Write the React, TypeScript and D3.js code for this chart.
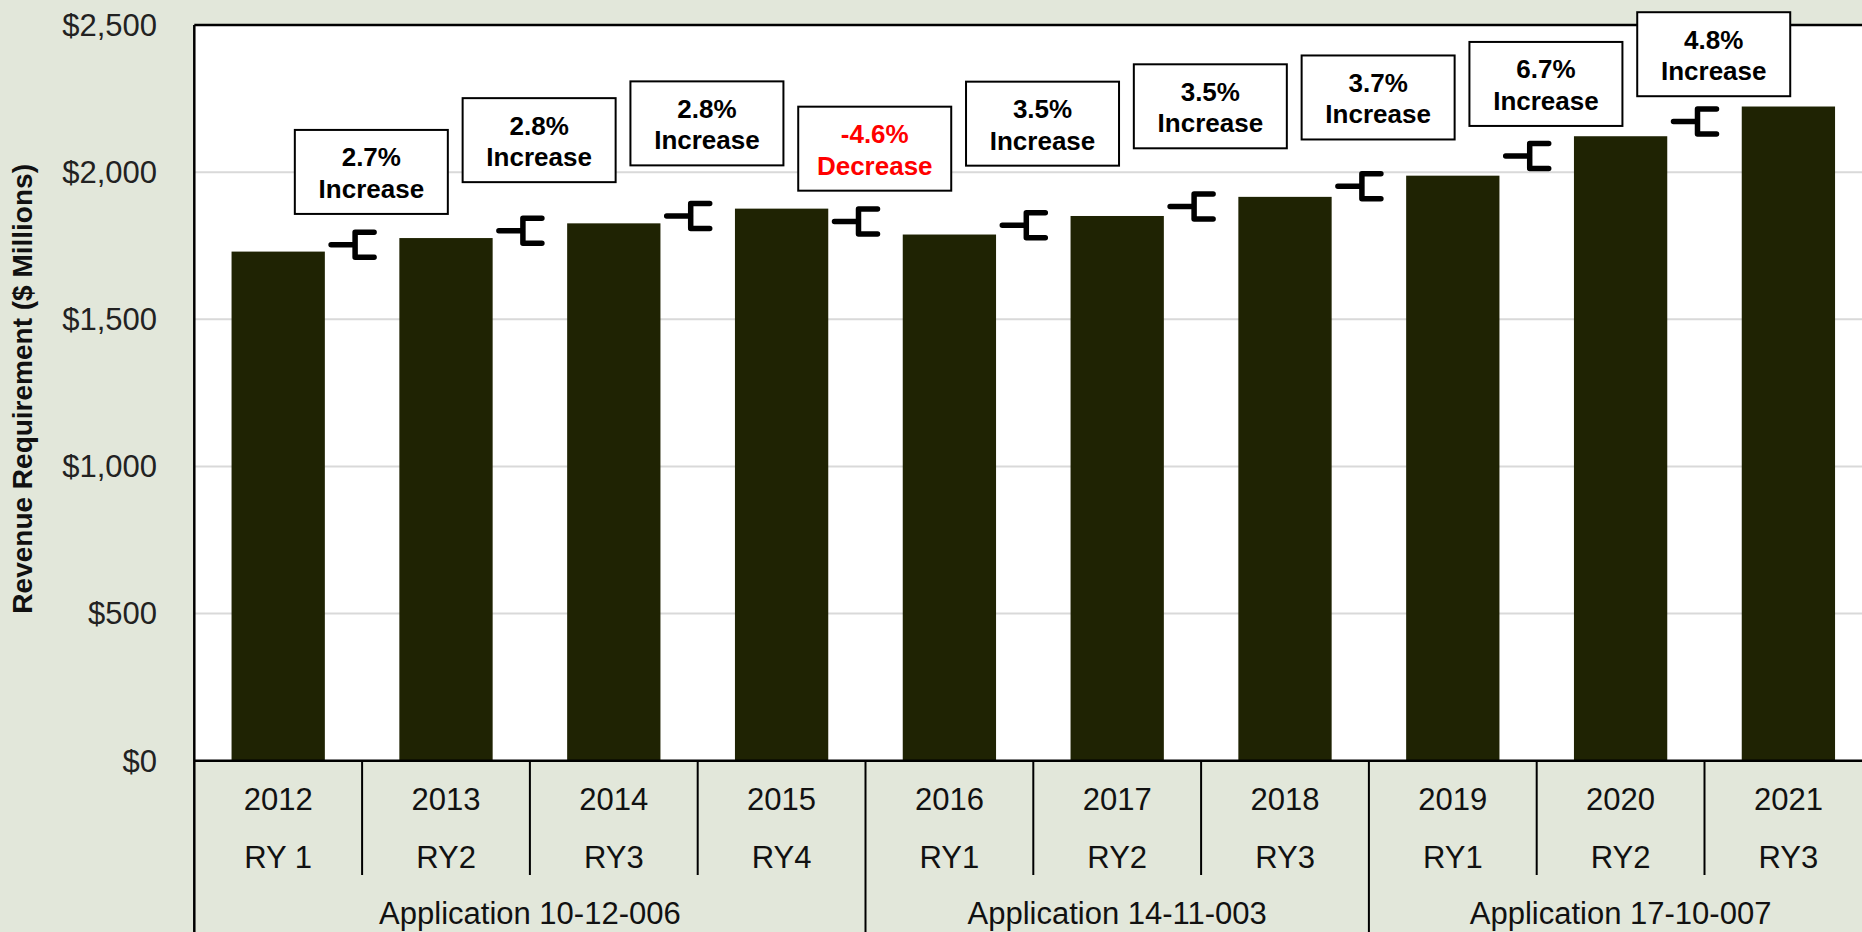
import React from 'react';
import * as d3 from 'd3';

// chart data
const years = ['2012', '2013', '2014', '2015', '2016', '2017', '2018', '2019', '2020', '2021'];
const rateYears = ['RY 1', 'RY2', 'RY3', 'RY4', 'RY1', 'RY2', 'RY3', 'RY1', 'RY2', 'RY3'];
const revenue = [1730, 1776, 1826, 1876, 1788, 1851, 1916, 1988, 2122, 2223];
const applications = ['Application 10-12-006', 'Application 14-11-003', 'Application 17-10-007'];
const appSpans = [4, 3, 3];
const changePct = ['2.7%', '2.8%', '2.8%', '-4.6%', '3.5%', '3.5%', '3.7%', '6.7%', '4.8%'];
// where each change label box sits, in $ millions (bottom edge of the box)
const labelLevels = [1858, 1966, 2023, 1937, 2022, 2081, 2111, 2157, 2258];
const yTicks = [0, 500, 1000, 1500, 2000, 2500];

const W = 1862;
const H = 932;
const margin = { top: 25, left: 194.3, bottom: 760.7 };
const step = 167.8;
const font = '"Liberation Sans", Arial, sans-serif';
const bg = '#e2e7da';
const barColor = '#1f2303';

const App = () => {
  const x = d3.scaleBand()
    .domain(years)
    .range([margin.left, margin.left + step * years.length])
    .padding(0);

  const y = d3.scaleLinear()
    .domain([0, 2500])
    .range([margin.bottom, margin.top]);

  const bw = x.bandwidth();
  const barW = bw * 0.556;
  const plotRight = margin.left + step * years.length;

  // group boundaries for the application row
  let acc = 0;
  const groups = applications.map((name, i) => {
    const start = acc;
    acc += appSpans[i];
    return { name, start, end: acc };
  });
  const groupEdges = new Set(groups.map(g => g.start));

  const boxW = 153;
  const boxH = 84;

  return (
    <div style={{ position: 'absolute', left: 0, top: 0, width: W, height: H, overflow: 'hidden' }}>
      <svg width={W} height={H} style={{ display: 'block', fontFamily: font }}>
        <rect x={0} y={0} width={W} height={H} fill={bg} />

        {/* plot area */}
        <rect x={margin.left} y={margin.top} width={plotRight - margin.left} height={margin.bottom - margin.top} fill="#fff" />

        {/* gridlines */}
        {yTicks.filter(t => t > 0 && t < 2500).map(t => (
          <line key={t} x1={margin.left} x2={plotRight} y1={y(t)} y2={y(t)} stroke="#d9d9d9" strokeWidth={2} />
        ))}

        {/* y tick labels */}
        {yTicks.map(t => (
          <text key={t} x={157} y={y(t)} dy="0.35em" textAnchor="end" fontSize={31} fill="#222">
            {d3.format('$,')(t)}
          </text>
        ))}

        {/* y axis title */}
        <text
          transform={`translate(32, ${(margin.top + margin.bottom) / 2 - 4}) rotate(-90)`}
          textAnchor="middle"
          fontSize={28}
          fontWeight="bold"
          fill="#111"
        >
          Revenue Requirement ($ Millions)
        </text>

        {/* bars */}
        {years.map((yr, i) => (
          <rect
            key={yr}
            x={(x(yr) as number) + (bw - barW) / 2}
            y={y(revenue[i])}
            width={barW}
            height={y(0) - y(revenue[i])}
            fill={barColor}
          />
        ))}

        {/* plot border */}
        <line x1={margin.left} x2={plotRight + 10} y1={margin.top} y2={margin.top} stroke="#000" strokeWidth={2.5} />
        <line x1={margin.left} x2={plotRight + 10} y1={margin.bottom} y2={margin.bottom} stroke="#000" strokeWidth={2.5} />
        <line x1={margin.left} x2={margin.left} y1={margin.top} y2={H} stroke="#000" strokeWidth={2.5} />

        {/* category separators */}
        {years.slice(1).map((yr, j) => {
          const i = j + 1;
          const xx = x(yr) as number;
          const full = groupEdges.has(i);
          return (
            <line key={yr} x1={xx} x2={xx} y1={margin.bottom} y2={full ? H : 875} stroke="#000" strokeWidth={2} />
          );
        })}

        {/* category labels */}
        {years.map((yr, i) => (
          <g key={yr}>
            <text x={(x(yr) as number) + bw / 2} y={810} textAnchor="middle" fontSize={31} fill="#111">{yr}</text>
            <text x={(x(yr) as number) + bw / 2} y={867.5} textAnchor="middle" fontSize={31} fill="#111">{rateYears[i]}</text>
          </g>
        ))}
        {groups.map(g => {
          const x0 = x(years[g.start]) as number;
          const x1 = g.end >= years.length ? plotRight : (x(years[g.end]) as number);
          return (
            <text key={g.name} x={(x0 + x1) / 2} y={924} textAnchor="middle" fontSize={31} fill="#111">{g.name}</text>
          );
        })}

        {/* change brackets and labels */}
        {changePct.map((pct, i) => {
          const b = x(years[i + 1]) as number;
          const c = (y(revenue[i]) + y(revenue[i + 1])) / 2;
          const neg = pct.startsWith('-');
          const cx = b + bw * 0.055;
          const bottom = y(labelLevels[i]);
          const top = bottom - boxH;
          const color = neg ? '#ff0000' : '#000';
          return (
            <g key={i}>
              <path
                d={`M${b - 31},${c} L${b - 7},${c} M${b + 12},${c - 12.5} L${b - 7},${c - 12.5} L${b - 7},${c + 12.5} L${b + 12},${c + 12.5}`}
                fill="none"
                stroke="#000"
                strokeWidth={5.5}
                strokeLinecap="round"
                strokeLinejoin="round"
              />
              <rect x={cx - boxW / 2} y={top} width={boxW} height={boxH} fill="#fff" stroke="#000" strokeWidth={2} />
              <text x={cx} y={top + 36.5} textAnchor="middle" fontSize={26} fontWeight="bold" fill={color}>{pct}</text>
              <text x={cx} y={top + 68} textAnchor="middle" fontSize={26} fontWeight="bold" fill={color}>
                {neg ? 'Decrease' : 'Increase'}
              </text>
            </g>
          );
        })}
      </svg>
    </div>
  );
};

export default App;
